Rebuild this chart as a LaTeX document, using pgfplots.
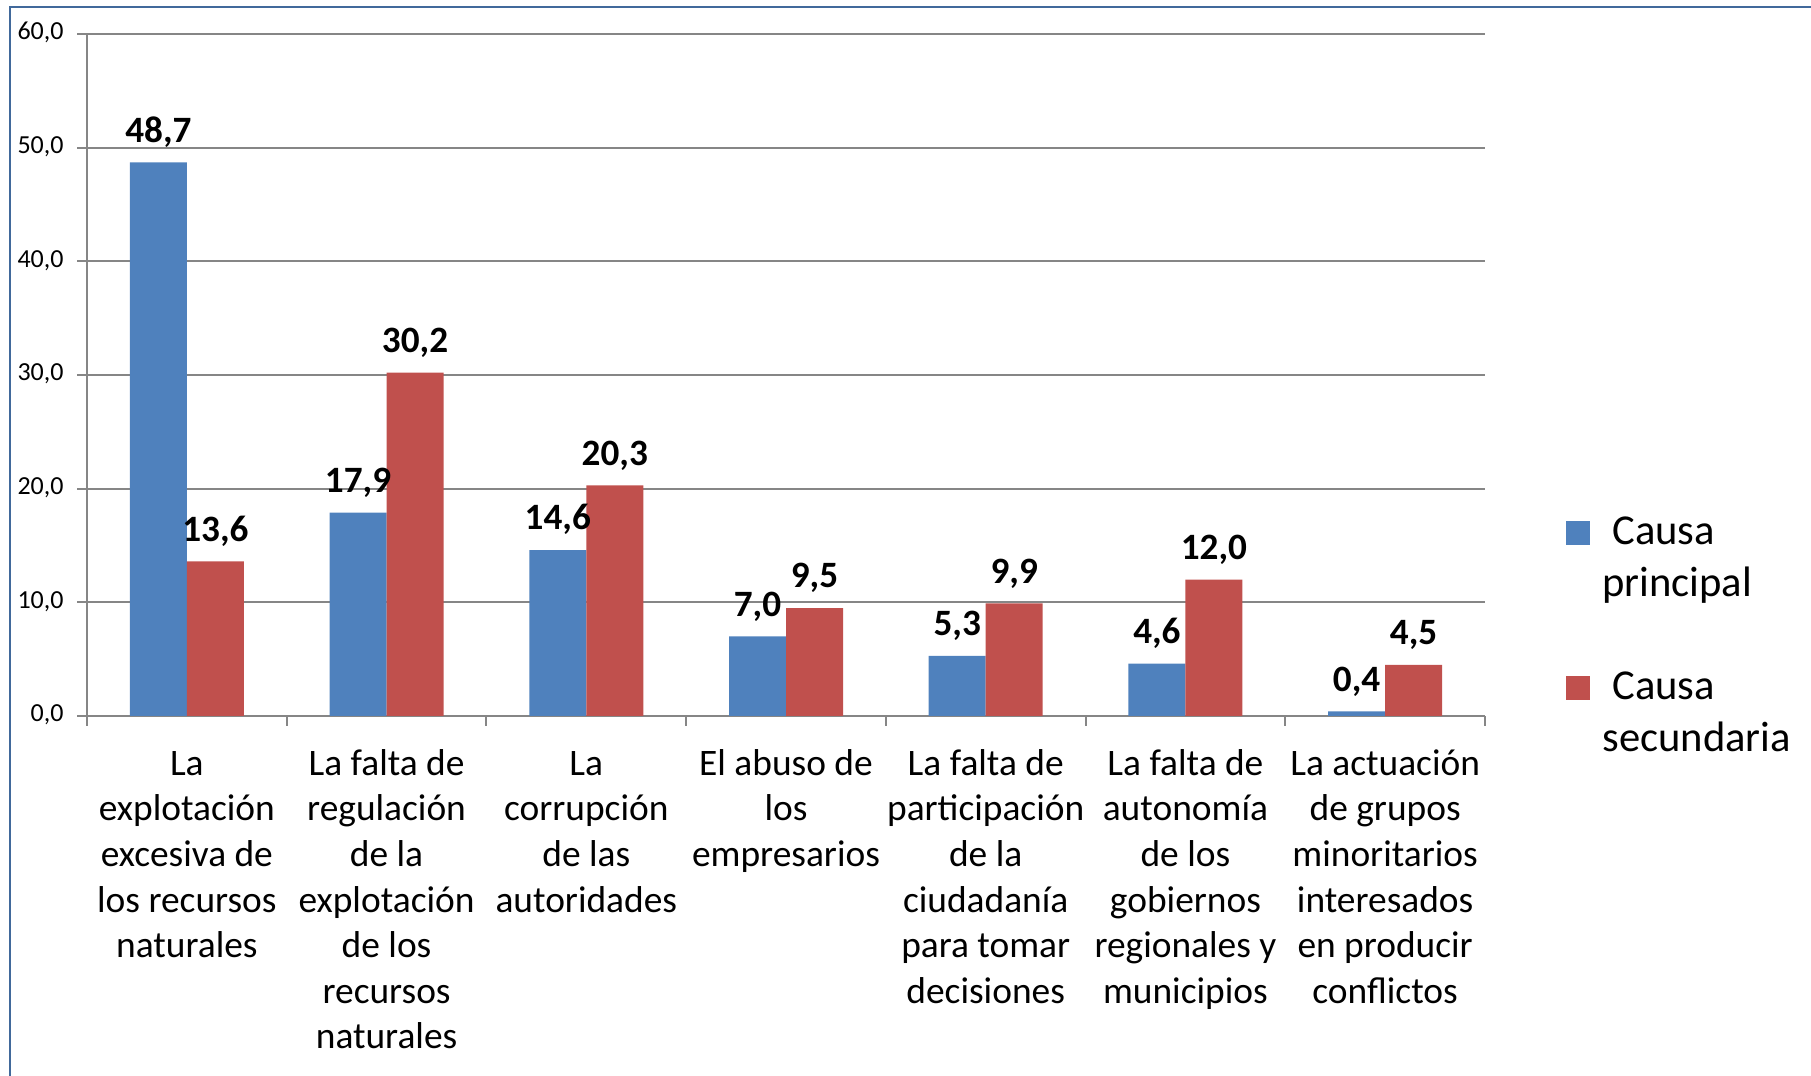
\documentclass[border=0pt]{standalone}
\usepackage{pgfplots}
\pgfplotsset{compat=1.18}
\usepackage{fontspec}
\setmainfont{Carlito}
\definecolor{cblue}{HTML}{4F81BD}
\definecolor{cred}{HTML}{C0504D}
\definecolor{cgrid}{HTML}{868686}
\definecolor{cframe}{HTML}{41699B}
\begin{document}
\begin{tikzpicture}
\useasboundingbox (0,0) rectangle (905.5pt,538pt);
\draw[cframe, line width=1.2pt] (5pt,0) -- (5pt,534.5pt) -- (905.5pt,534.5pt);
\begin{axis}[
  at={(43.5pt,180pt)}, anchor=south west,
  scale only axis, width=699pt, height=341pt,
  ybar=0pt, bar width=28.5pt,
  xmin=-0.5, xmax=6.5, ymin=0, ymax=60,
  xtick={-0.5,0.5,1.5,2.5,3.5,4.5,5.5,6.5},
  x tick label as interval,
  xticklabels={{La\\explotación\\excesiva de\\los recursos\\naturales},
    {La falta de\\regulación\\de la\\explotación\\de los\\recursos\\naturales},
    {La\\corrupción\\de las\\autoridades},
    {El abuso de\\los\\empresarios},
    {La falta de\\participación\\de la\\ciudadanía\\para tomar\\decisiones},
    {La falta de\\autonomía\\de los\\gobiernos\\regionales y\\municipios},
    {La actuación\\de grupos\\minoritarios\\interesados\\en producir\\conflictos}},
  typeset ticklabels with strut,
  xticklabel style={font=\fontsize{18.7}{22.8}\selectfont, align=center, text=black, yshift=-5.2pt},
  ytick={0,10,...,60},
  yticklabel style={font=\fontsize{13}{15}\selectfont, text=black, xshift=-3.2pt,
    /pgf/number format/.cd, fixed, fixed zerofill, precision=1, use comma},
  /pgf/number format/assume math mode=true,
  axis lines*=left,
  axis line style={cgrid, line width=1pt, -},
  ymajorgrids, grid style={cgrid, line width=1pt},
  tick align=outside,
  major tick length=5pt,
  tick style={cgrid, line width=1pt},
  clip=false,
  nodes near coords={\pgfmathprintnumber[fixed,fixed zerofill,precision=1,use comma,assume math mode=true]{\pgfplotspointmeta}},
  nodes near coords style={font=\fontsize{18.6}{20}\selectfont\bfseries, text=black, yshift=4pt},
  legend style={at={(1.058,0.293)}, anchor=north west, draw=none, fill=none,
    font=\fontsize{21.3}{26}\selectfont, cells={anchor=west, align=left},
    row sep=36.3pt, column sep=6pt, inner sep=0pt, nodes={inner sep=0pt}},
  legend image code/.code={\fill[#1] (0pt,6.4pt) rectangle (12pt,18.4pt);},
]
\addplot[fill=cblue, draw=none] coordinates {(0,48.7) (1,17.9) (2,14.6) (3,7.0) (4,5.3) (5,4.6) (6,0.4)};
\addlegendentry{\hspace{5pt}Causa\\principal}
\addplot[fill=cred, draw=none] coordinates {(0,13.6) (1,30.2) (2,20.3) (3,9.5) (4,9.9) (5,12.0) (6,4.5)};
\addlegendentry{\hspace{5pt}Causa\\secundaria}
\end{axis}
\end{tikzpicture}
\end{document}
